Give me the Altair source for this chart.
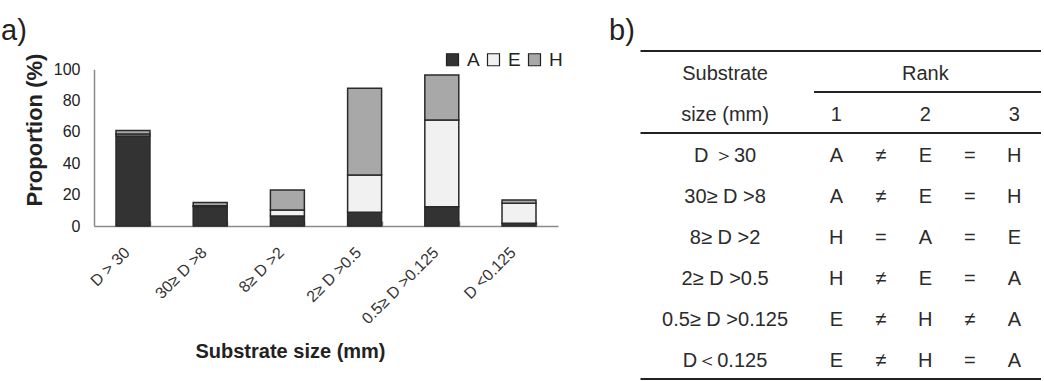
import altair as alt
import pandas as pd

FONT = "Liberation Sans"

# ---- panel a) data ----
categories = ["D > 30", "30≥ D >8", "8≥ D >2", "2≥ D >0.5", "0.5≥ D >0.125", "D <0.125"]
series = ["A", "E", "H"]
val_A = [57.5, 12.5, 6.4, 8.7, 12.3, 1.7]
val_E = [1.2, 0.5, 3.8, 23.8, 55.3, 12.8]
val_H = [2.3, 2.0, 12.8, 55.4, 28.7, 2.1]
y_ticks = [0, 20, 40, 60, 80, 100]
series_colors = ["#333333", "#f1f1f1", "#a8a8a8"]

# ---- panel b) data ----
row_labels = ["D ＞30", "30≥ D >8", "8≥ D >2", "2≥ D >0.5", "0.5≥ D >0.125", "D＜0.125"]
rank1 = ["A", "A", "H", "H", "E", "E"]
op1 = ["≠", "≠", "=", "≠", "≠", "≠"]
rank2 = ["E", "E", "A", "E", "H", "H"]
op2 = ["=", "=", "=", "=", "≠", "="]
rank3 = ["H", "H", "E", "A", "A", "A"]
header_top = ["Substrate", "Rank"]
header_bottom = ["size (mm)", "1", "2", "3"]

# ---- build bar table ----
vals = {"A": val_A, "E": val_E, "H": val_H}
bar_rows = []
for si, s in enumerate(series):
    for c, v in zip(categories, vals[s]):
        bar_rows.append({"size": c, "series": s, "value": v, "ord": si})
df_bars = pd.DataFrame(bar_rows)

# ---- build text table (column index, row index) ----
# columns: label=-1.5, rank1=1, op1=2, rank2=3, op2=4, rank3=5
col_label, col_r1, col_o1, col_r2, col_o2, col_r3 = -1.5, 1, 2, 3, 4, 5
cells = [
    {"t": header_top[0], "c": col_label, "r": 0},
    {"t": header_top[1], "c": col_r2, "r": 0},
    {"t": header_bottom[0], "c": col_label, "r": 1},
    {"t": header_bottom[1], "c": col_r1, "r": 1},
    {"t": header_bottom[2], "c": col_r2, "r": 1},
    {"t": header_bottom[3], "c": col_r3, "r": 1},
]
for i in range(len(row_labels)):
    r = i + 2
    for t, c in [(row_labels[i], col_label), (rank1[i], col_r1), (op1[i], col_o1),
                 (rank2[i], col_r2), (op2[i], col_o2), (rank3[i], col_r3)]:
        cells.append({"t": t, "c": c, "r": r})
df_cells = pd.DataFrame(cells)

x_lo, x_hi = -3.4, 5.6
y_lo, y_hi = -0.5, 7.5
df_rules = pd.DataFrame([
    {"x": x_lo, "x2": x_hi, "y": y_lo},
    {"x": 0.5, "x2": x_hi, "y": 0.5},
    {"x": x_lo, "x2": x_hi, "y": 1.5},
    {"x": x_lo, "x2": x_hi, "y": y_hi},
])

# plot group origin is at (94, 51) of the page
tx = alt.Scale(domain=[x_lo, x_hi], range=[546.5, 947], nice=False, zero=False)
ty = alt.Scale(domain=[y_lo, y_hi], range=[0, 328], nice=False, zero=False)

bars = alt.Chart(df_bars).mark_bar(stroke="#2a2a2a", strokeWidth=1.5).encode(
    x=alt.X(
        "size:N", sort=categories,
        scale=alt.Scale(domain=categories, range=[0, 464], paddingInner=0.56, paddingOuter=0.285),
        axis=alt.Axis(
            title="Substrate size (mm)", offset=-153, labelAngle=-45, labelAlign="right",
            labelBaseline="top", labelPadding=23, labelOffset=-12, labelFont=FONT, labelFontSize=16,
            labelColor="#333333", domainColor="#8a8a8a", domainWidth=1.5, tickColor="#8a8a8a",
            tickWidth=1.5, tickSize={"expr": "-5"}, tickBand="extent",
            titleFont=FONT, titleFontSize=20, titleFontWeight="bold", titleColor="#222222",
            titleX=196, titleY=125, titleBaseline="middle",
        ),
    ),
    y=alt.Y(
        "value:Q", stack="zero",
        scale=alt.Scale(domain=[0, 100], range=[175, 18.3], nice=False),
        axis=alt.Axis(
            values=y_ticks, ticks=False, labelPadding=14, labelFont=FONT, labelFontSize=16,
            labelColor="#222222", domainColor="#8a8a8a", domainWidth=1.5, grid=False,
            title="Proportion (%)", titleFont=FONT, titleFontSize=22, titleFontWeight="bold",
            titleColor="#222222", titleX=-60, titleY=78.5, titleBaseline="middle",
        ),
    ),
    color=alt.Color(
        "series:N", scale=alt.Scale(domain=series, range=series_colors),
        legend=alt.Legend(
            title=None, orient="none", legendX=349, legendY=-1, direction="horizontal",
            symbolType="square", symbolSize=144, symbolStrokeColor="#222222",
            symbolStrokeWidth=1.2, symbolOpacity=1, labelFont=FONT, labelFontSize=19,
            labelColor="#222222", labelOffset=5, columnPadding=4, padding=0,
        ),
    ),
    order=alt.Order("ord:Q", sort="ascending"),
)

table_text = alt.Chart(df_cells).mark_text(
    font=FONT, fontSize=20, color="#2b2b2b", baseline="middle", align="center", dy=2
).encode(
    x=alt.X("c:Q", scale=tx, axis=None),
    y=alt.Y("r:Q", scale=ty, axis=None),
    text="t:N",
)

table_rules = alt.Chart(df_rules).mark_rule(color="#222222", strokeWidth=2).encode(
    x=alt.X("x:Q", scale=tx, axis=None),
    x2="x2:Q",
    y=alt.Y("y:Q", scale=ty, axis=None),
)

panel_a = alt.Chart(pd.DataFrame({"t": ["a)"]})).mark_text(
    font=FONT, fontSize=29, color="#222222", align="left", baseline="alphabetic"
).encode(text="t:N", x=alt.value(-93), y=alt.value(-11))

panel_b = alt.Chart(pd.DataFrame({"t": ["b)"]})).mark_text(
    font=FONT, fontSize=29, color="#222222", align="left", baseline="alphabetic"
).encode(text="t:N", x=alt.value(515), y=alt.value(-11))

chart = alt.layer(bars, table_text, table_rules, panel_a, panel_b).resolve_scale(
    x="independent", y="independent"
).properties(
    width=946, height=328,
    autosize=alt.AutoSizeParams(type="none"),
    padding={"left": 94, "top": 51, "right": 4, "bottom": 2},
    background="white",
).configure_view(stroke=None)

chart.save("out.html", embed_options={"renderer": "svg", "actions": False})
